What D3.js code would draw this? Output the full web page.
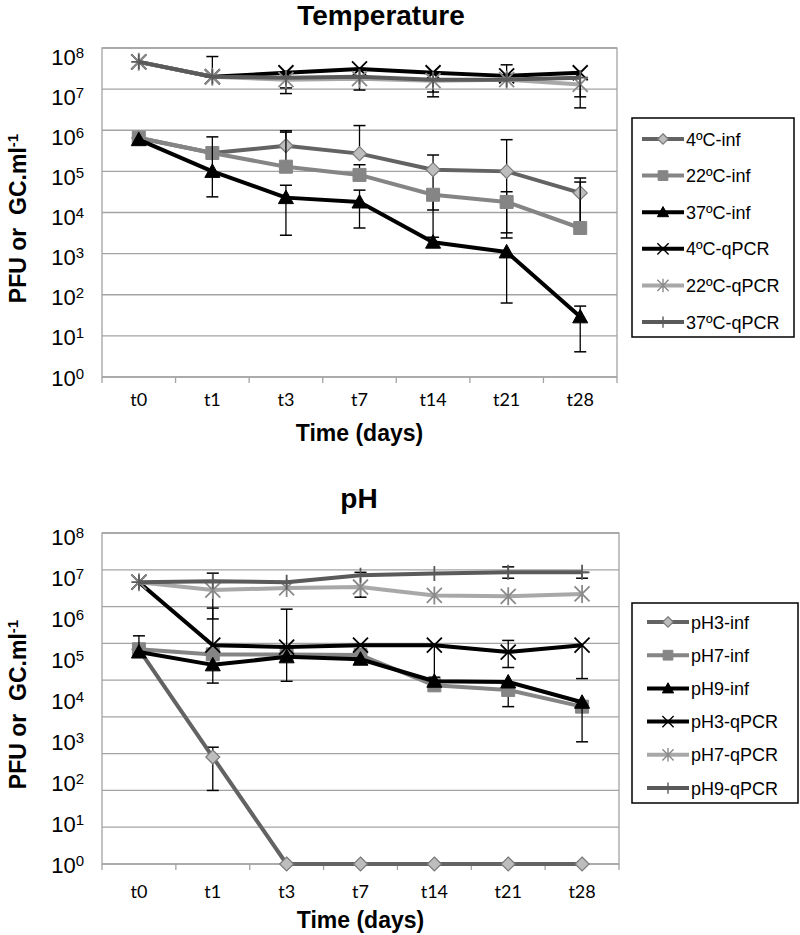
<!DOCTYPE html>
<html><head><meta charset="utf-8">
<script src="https://cdn.jsdelivr.net/npm/d3@7"></script>
<style>body{margin:0;background:#fff}svg{display:block}</style>
</head><body><svg id="c" width="800" height="935"></svg>
<script>
// ---------- data ----------
const categories = ["t0","t1","t3","t7","t14","t21","t28"];
const tempNames = ["4ºC-inf","22ºC-inf","37ºC-inf","4ºC-qPCR","22ºC-qPCR","37ºC-qPCR"];
const phNames = ["pH3-inf","pH7-inf","pH9-inf","pH3-qPCR","pH7-qPCR","pH9-qPCR"];
const tickExps = [0,1,2,3,4,5,6,7,8];

// Temperature
const t4Inf    = [6.5e5, 2.8e5, 4.2e5, 2.7e5, 1.1e5, 1.0e5, 3.0e4];
const t4InfLo  = [null, null, null, null, 1.15e4, 2.4e3, 5e3];
const t4InfHi  = [null, null, 9.7e5, 1.3e6, 2.5e5, 5.9e5, 6.9e4];
const t22Inf   = [6.6e5, 2.8e5, 1.3e5, 8.2e4, 2.7e4, 1.8e4, 4.2e3];
const t22InfLo = [null, null, null, null, 2.5e3, 3.2e3, null];
const t22InfHi = [null, null, 9.0e5, 1.45e5, null, 3.2e4, 5.5e4];
const t37Inf   = [5.9e5, 1.0e5, 2.3e4, 1.8e4, 1.9e3, 1.1e3, 29];
const t37InfLo = [null, 2.4e4, 2.8e3, 4.2e3, null, 63, 4.1];
const t37InfHi = [null, 6.9e5, 4.6e4, 3.5e4, null, null, 53];
const t4Q      = [4.6e7, 2.0e7, 2.5e7, 3.1e7, 2.5e7, 2.1e7, 2.5e7];
const t4QLo    = [null, null, 1.07e7, 9.5e6, 8.5e6, null, null];
const t4QHi    = [null, null, null, null, null, null, null];
const t22Q     = [4.6e7, 2.0e7, 1.7e7, 1.8e7, 1.6e7, 1.7e7, 1.3e7];
const t22QLo   = [null, null, 7.8e6, null, 6.5e6, null, 3.5e6];
const t22QHi   = [null, 6.2e7, null, null, null, 3.9e7, null];
const t37Q     = [4.6e7, 2.0e7, 1.9e7, 2.0e7, 1.7e7, 1.7e7, 1.9e7];
const t37QLo   = [null, null, null, null, null, null, 6.5e6];
const t37QHi   = [null, null, null, null, null, null, null];

// pH (values on the plotted log axis 10^0..10^9)
const p3Inf    = [6.9e5, 8.1e2, 1, 1, 1, 1, 1];
const p3InfLo  = [null, 1.0e2, null, null, null, null, null];
const p3InfHi  = [null, 1.5e3, null, null, null, null, null];
const p7Inf    = [6.9e5, 5.0e5, 5.0e5, 4.8e5, 7.2e4, 5.4e4, 1.9e4];
const p7InfLo  = [null, null, null, null, null, 1.9e4, null];
const p7InfHi  = [null, null, null, null, null, null, null];
const p9Inf    = [5.8e5, 2.6e5, 4.3e5, 3.7e5, 9.3e4, 8.9e4, 2.5e4];
const p9InfLo  = [null, 8.3e4, null, null, null, null, 2.1e3];
const p9InfHi  = [1.6e6, null, null, null, null, null, null];
const p3Q      = [4.6e7, 8.9e5, 7.9e5, 8.9e5, 8.9e5, 5.8e5, 8.9e5];
const p3QLo    = [null, null, 9.3e4, null, 1.2e5, 2.2e5, 1.1e5];
const p3QHi    = [null, 9.1e6, 8.5e6, null, null, 1.2e6, null];
const p7Q      = [4.6e7, 2.8e7, 3.2e7, 3.4e7, 2.0e7, 1.9e7, 2.2e7];
const p7QLo    = [null, 4.6e6, null, 1.8e7, null, null, null];
const p7QHi    = [null, null, null, null, null, null, null];
const p9Q      = [4.6e7, 4.9e7, 4.6e7, 7.1e7, 7.9e7, 8.5e7, 8.5e7];
const p9QLo    = [null, null, null, null, null, 5.9e7, 5.9e7];
const p9QHi    = [null, 8.1e7, null, 8.5e7, null, 1.2e8, 8.5e7];

// ---------- marker shapes ----------
const symDiamond = {draw(c,r){c.moveTo(0,-r);c.lineTo(r,0);c.lineTo(0,r);c.lineTo(-r,0);c.closePath();}};
const symSquare  = {draw(c,r){c.rect(-r,-r,2*r,2*r);}};
const symTri     = {draw(c,r){c.moveTo(0,-r);c.lineTo(r,r*0.8);c.lineTo(-r,r*0.8);c.closePath();}};
const symX       = {draw(c,r){c.moveTo(-r,-r);c.lineTo(r,r);c.moveTo(r,-r);c.lineTo(-r,r);}};
const symStar    = {draw(c,r){c.moveTo(-r,-r);c.lineTo(r,r);c.moveTo(r,-r);c.lineTo(-r,r);c.moveTo(0,-r*1.2);c.lineTo(0,r*1.2);}};
const symPlus    = {draw(c,r){c.moveTo(0,-r);c.lineTo(0,r);c.moveTo(-r,0);c.lineTo(r,0);}};

const styles = [
  {line:"#636363", sym:symDiamond, r:7, fill:"#bdbdbd", stroke:"#7a7a7a", sw:1.2},
  {line:"#858585", sym:symSquare,  r:6.5, fill:"#858585", stroke:"#858585", sw:1},
  {line:"#000000", sym:symTri,     r:7.5, fill:"#000000", stroke:"#000000", sw:1},
  {line:"#000000", sym:symX,       r:7.5, fill:"none", stroke:"#000000", sw:1.8},
  {line:"#a8a8a8", sym:symStar,    r:7.5, fill:"none", stroke:"#8a8a8a", sw:1.8},
  {line:"#5a5a5a", sym:symPlus,    r:7.5, fill:"none", stroke:"#5a5a5a", sw:1.8}
];

const svg = d3.select("#c");

function drawChart(cfg){
  const g = svg.append("g");
  const x = d3.scaleBand().domain(categories).range([cfg.x0, cfg.x1]).padding(0);
  const y = d3.scaleLog().domain([1, cfg.maxV]).range([cfg.y1, cfg.y0]);
  const yl = d3.scaleLog().domain([1, 1e8]).range([cfg.y1, cfg.labelTop]);
  const cx = c => x(c) + x.bandwidth()/2;

  // gridlines
  const gridVals = d3.range(0, Math.round(Math.log10(cfg.maxV)) + 1).map(k => Math.pow(10,k));
  g.append("g").selectAll("line").data(gridVals).join("line")
    .attr("x1", cfg.x0).attr("x2", cfg.x1)
    .attr("y1", d => y(d)).attr("y2", d => y(d))
    .attr("stroke", "#a3a3a3").attr("stroke-width", 1.3);
  // plot border
  g.append("rect").attr("x", cfg.x0).attr("y", cfg.y0)
    .attr("width", cfg.x1 - cfg.x0).attr("height", cfg.y1 - cfg.y0)
    .attr("fill", "none").attr("stroke", "#a3a3a3").attr("stroke-width", 1.3);
  // x tick marks at category boundaries
  const bounds = categories.map(c => x(c)).concat([cfg.x1]);
  g.append("g").selectAll("line").data(bounds).join("line")
    .attr("x1", d => d).attr("x2", d => d)
    .attr("y1", cfg.y1).attr("y2", cfg.y1 + 6)
    .attr("stroke", "#a3a3a3").attr("stroke-width", 1.3);
  // x axis labels
  const xa = g.append("g").attr("transform", `translate(0,${cfg.y1})`)
    .call(d3.axisBottom(x).tickSize(0).tickPadding(cfg.xLabelPad));
  xa.select(".domain").remove();
  xa.selectAll("text").attr("font-family", "Lato, 'Open Sans', sans-serif")
    .attr("font-size", 18).attr("fill", "#000");

  // y axis labels (10^k)
  const ya = g.append("g").attr("transform", `translate(${cfg.x0 - 18},0)`)
    .call(d3.axisLeft(yl).tickValues(tickExps.map(k => Math.pow(10,k))).tickSize(0).tickPadding(0).tickFormat(""));
  ya.select(".domain").remove();
  ya.selectAll(".tick text").each(function(d){
    const t = d3.select(this).attr("dy", null).attr("y", 8)
      .attr("text-anchor", "end").attr("font-family", "'Liberation Sans', Arial, sans-serif")
      .attr("font-size", 22).attr("fill", "#000");
    t.text(null);
    t.append("tspan").text("10");
    t.append("tspan").attr("font-size", 15).attr("dy", -7).text(String(Math.round(Math.log10(d))));
  });

  // series
  cfg.series.forEach((s, i) => {
    const st = styles[i];
    const sg = g.append("g");
    const pts = s.v.map((v, j) => ({c: categories[j], v, lo: s.lo[j], hi: s.hi[j]}));
    // error bars
    const eb = pts.filter(p => p.lo != null || p.hi != null);
    eb.forEach(p => {
      const px = cx(p.c);
      const top = p.hi != null ? y(p.hi) : y(p.v);
      const bot = p.lo != null ? y(p.lo) : y(p.v);
      sg.append("line").attr("x1", px).attr("x2", px).attr("y1", top).attr("y2", bot)
        .attr("stroke", "#000").attr("stroke-width", 1.3);
      if (p.hi != null) sg.append("line").attr("x1", px - 6).attr("x2", px + 6).attr("y1", top).attr("y2", top)
        .attr("stroke", "#000").attr("stroke-width", 1.5);
      if (p.lo != null) sg.append("line").attr("x1", px - 6).attr("x2", px + 6).attr("y1", bot).attr("y2", bot)
        .attr("stroke", "#000").attr("stroke-width", 1.5);
    });
    sg.append("path").datum(pts)
      .attr("d", d3.line().x(p => cx(p.c)).y(p => y(p.v)))
      .attr("fill", "none").attr("stroke", st.line).attr("stroke-width", 4)
      .attr("stroke-linejoin", "round");
    sg.selectAll("path.m").data(pts).join("path").attr("class", "m")
      .attr("transform", p => `translate(${cx(p.c)},${y(p.v)})`)
      .attr("d", d3.symbol().type(st.sym).size(st.r))
      .attr("fill", st.fill).attr("stroke", st.stroke).attr("stroke-width", st.sw);
  });

  // titles
  svg.append("text").attr("x", cfg.titleX).attr("y", cfg.titleY).attr("text-anchor", "middle")
    .attr("font-family", "'Liberation Sans', Arial, sans-serif").attr("font-weight", "bold")
    .attr("font-size", 28).text(cfg.title);
  svg.append("text").attr("x", (cfg.x0 + cfg.x1)/2).attr("y", cfg.xTitleY).attr("text-anchor", "middle")
    .attr("font-family", "'Liberation Sans', Arial, sans-serif").attr("font-weight", "bold")
    .attr("font-size", 23).text("Time (days)");
  const yt = svg.append("text")
    .attr("transform", `translate(26,${(cfg.y0 + cfg.y1)/2 + 6}) rotate(-90)`)
    .attr("text-anchor", "middle").attr("font-family", "'Liberation Sans', Arial, sans-serif")
    .attr("font-weight", "bold").attr("font-size", 23).style("white-space", "pre");
  yt.append("tspan").text("PFU or  GC.ml");
  yt.append("tspan").attr("font-size", 15).attr("dy", -8).text("-1");

  // legend
  const L = cfg.legend;
  svg.append("rect").attr("x", L.x).attr("y", L.y).attr("width", L.w).attr("height", L.h)
    .attr("fill", "#fff").attr("stroke", "#000").attr("stroke-width", 1.5);
  cfg.series.forEach((s, i) => {
    const st = styles[i];
    const ly = L.y0 + i * L.dy;
    const lg = svg.append("g");
    lg.append("line").attr("x1", L.lx).attr("x2", L.lx + 42).attr("y1", ly).attr("y2", ly)
      .attr("stroke", st.line).attr("stroke-width", 4);
    lg.append("path").attr("transform", `translate(${L.lx + 21},${ly})`)
      .attr("d", d3.symbol().type(st.sym).size(st.r * 0.75)())
      .attr("fill", st.fill).attr("stroke", st.stroke).attr("stroke-width", Math.min(st.sw, 1.4));
    lg.append("text").attr("x", L.lx + 44).attr("y", ly + 6.5)
      .attr("font-family", "'Liberation Sans', Arial, sans-serif").attr("font-size", 18)
      .text(s.name);
  });
}

drawChart({
  x0: 102, x1: 617, y0: 48, y1: 377, maxV: 1e8, labelTop: 56,
  xLabelPad: 16, title: "Temperature", titleX: 381, titleY: 25, xTitleY: 441,
  series: [
    {name: tempNames[0], v: t4Inf,  lo: t4InfLo,  hi: t4InfHi},
    {name: tempNames[1], v: t22Inf, lo: t22InfLo, hi: t22InfHi},
    {name: tempNames[2], v: t37Inf, lo: t37InfLo, hi: t37InfHi},
    {name: tempNames[3], v: t4Q,    lo: t4QLo,    hi: t4QHi},
    {name: tempNames[4], v: t22Q,   lo: t22QLo,   hi: t22QHi},
    {name: tempNames[5], v: t37Q,   lo: t37QLo,   hi: t37QHi}
  ],
  legend: {x: 632, y: 118, w: 162, h: 219, lx: 642, y0: 139, dy: 36.6}
});

drawChart({
  x0: 102, x1: 619, y0: 533, y1: 864, maxV: 1e9, labelTop: 536,
  xLabelPad: 21, title: "pH", titleX: 359, titleY: 508, xTitleY: 928,
  series: [
    {name: phNames[0], v: p3Inf, lo: p3InfLo, hi: p3InfHi},
    {name: phNames[1], v: p7Inf, lo: p7InfLo, hi: p7InfHi},
    {name: phNames[2], v: p9Inf, lo: p9InfLo, hi: p9InfHi},
    {name: phNames[3], v: p3Q,   lo: p3QLo,   hi: p3QHi},
    {name: phNames[4], v: p7Q,   lo: p7QLo,   hi: p7QHi},
    {name: phNames[5], v: p9Q,   lo: p9QLo,   hi: p9QHi}
  ],
  legend: {x: 632, y: 603, w: 166, h: 200, lx: 647, y0: 622, dy: 33.2}
});
</script></body></html>
